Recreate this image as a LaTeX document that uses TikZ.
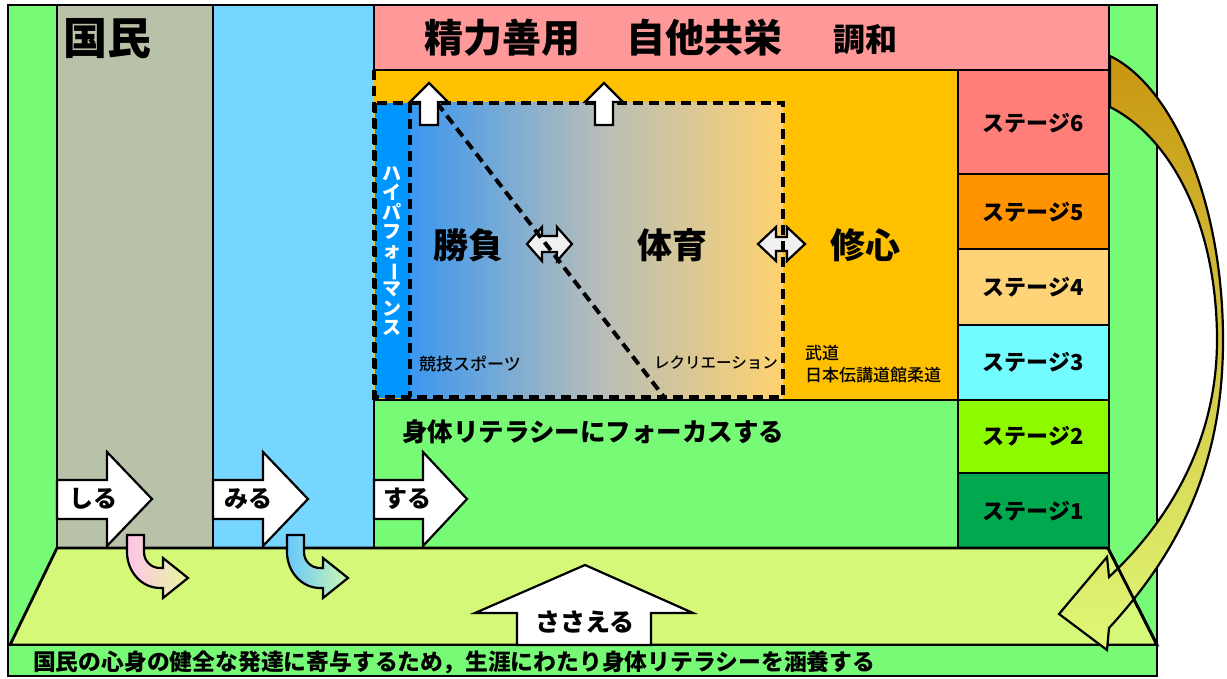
\documentclass[tikz,border=0pt]{standalone}
\usepackage{fontspec}
\usepackage{graphicx}
\setmainfont{Noto Sans CJK JP}
\IfFontExistsTF{Noto Sans CJK JP Black}{\newfontfamily\hvyfont{Noto Sans CJK JP Black}}{\newcommand\hvyfont{\bfseries}}
\IfFontExistsTF{Noto Sans CJK JP Medium}{\newfontfamily\medfont{Noto Sans CJK JP Medium}}{\newcommand\medfont{\mdseries}}
\newcommand\fsz[1]{\fontsize{#1}{#1}\selectfont}
\definecolor{cgreen}{HTML}{77FB77}
\definecolor{cgray}{HTML}{B8C2A8}
\definecolor{cblue}{HTML}{77D6FF}
\definecolor{cpink}{HTML}{FF9999}
\definecolor{corange}{HTML}{FFC000}
\definecolor{stsix}{HTML}{FF7E79}
\definecolor{stfive}{HTML}{FF9300}
\definecolor{stfour}{HTML}{FFD479}
\definecolor{stthree}{HTML}{73FCFF}
\definecolor{sttwo}{HTML}{8EFA00}
\definecolor{stone}{HTML}{00A94F}
\definecolor{ctrap}{HTML}{D5F878}
\definecolor{hpblue}{HTML}{0096FF}
\definecolor{gL}{HTML}{3B97EF}
\definecolor{gM}{HTML}{B5BDBA}
\definecolor{gR}{HTML}{FFD26F}
\definecolor{lgray}{HTML}{F0F0F0}
\definecolor{cgold}{HTML}{C8960F}
\definecolor{cyg}{HTML}{E0F878}
\definecolor{pkL}{HTML}{FFC4E8}
\definecolor{pkR}{HTML}{E6F7A0}
\definecolor{buL}{HTML}{66C8FF}
\definecolor{buR}{HTML}{D0F7B0}
\begin{document}
\begin{tikzpicture}[x=1pt,y=-1pt]
\tikzset{
  bd/.style={draw=black, line width=2.8pt},
  dsh/.style={draw=black, line width=4pt, dash pattern=on 10pt off 6pt},
  lbl/.style={inner sep=0pt},
  wa/.style={fill=white, draw=black, line width=2.2pt, line join=miter},
  da/.style={fill=lgray, draw=black, line width=2.2pt, line join=miter},
}
\useasboundingbox (0,0) rectangle (1227,679);
% outer frame
\path[fill=cgreen, bd] (8,5) rectangle (1157,676);
% columns
\path[fill=cgray, bd] (57,5) rectangle (213,548);
\fill[cblue] (213,5) rectangle (374,548);
\draw[bd] (374,5) -- (213,5) -- (213,548) -- (374,548);
% orange area
\fill[corange] (374,70) rectangle (958,400);
% top bar
\path[fill=cpink, bd] (374,5) rectangle (1109,70);
% gradient box
\fill[hpblue] (375,103) rectangle (410,398);
\shade[left color=gL, right color=gR, middle color=gM] (410,103) rectangle (783,398);
% green region
\path[fill=cgreen, bd] (374,400) rectangle (958,548);
% stages
\path[fill=stsix, bd] (958,70) rectangle (1109,174);
\path[fill=stfive, bd] (958,174) rectangle (1109,249);
\path[fill=stfour, bd] (958,249) rectangle (1109,325);
\path[fill=stthree, bd] (958,325) rectangle (1109,400);
\path[fill=sttwo, bd] (958,400) rectangle (1109,473);
\path[fill=stone, bd] (958,473) rectangle (1109,548);
% double arrows
\path[da] (527,244) -- (542,227) -- (542,236) -- (557,236) -- (557,227) -- (572,244)
  -- (557,261) -- (557,252) -- (542,252) -- (542,261) -- cycle;
\path[da] (758,244) -- (776,227) -- (776,237) -- (787,237) -- (787,227) -- (805,244)
  -- (787,261) -- (787,251) -- (776,251) -- (776,261) -- cycle;
% dashed lines
\draw[dsh] (374,70) -- (374,400);
\draw[dsh] (375,103) rectangle (783,397);
\draw[dsh] (410,103) -- (410,397);
\draw[dsh] (437,103) -- (664,397);
% up arrows
\path[wa] (420,125) -- (420,102) -- (410,102) -- (429,83) -- (448,102) -- (438,102) -- (438,125) -- cycle;
\path[wa] (595,125) -- (595,102) -- (585,102) -- (604,83) -- (623,102) -- (613,102) -- (613,125) -- cycle;
% trapezoid & bottom bar
\path[fill=ctrap, bd] (57,548) -- (1108,548) -- (1157,645) -- (10,645) -- cycle;
\path[fill=cgreen, bd] (8,645) rectangle (1157,676);
% block arrows
\path[wa] (57,480) -- (107,480) -- (107,452) -- (152,499) -- (107,546) -- (107,519) -- (57,519) -- cycle;
\path[wa] (213,480) -- (263,480) -- (263,452) -- (308,499) -- (263,546) -- (263,519) -- (213,519) -- cycle;
\path[wa] (374,480) -- (423,480) -- (423,452) -- (467,499) -- (423,546) -- (423,519) -- (374,519) -- cycle;
% small curved arrows
\path[left color=pkL, right color=pkR, draw=black, line width=2.2pt]
  (127,535) -- (144,535) -- (144,552) .. controls (144,561) and (151,568) .. (160,568)
  -- (163,568) -- (163,558) -- (188,578) -- (163,598) -- (163,588) -- (160,588)
  .. controls (142,588) and (127,572) .. (127,552) -- cycle;
\path[left color=buL, right color=buR, draw=black, line width=2.2pt]
  (287,535) -- (304,535) -- (304,552) .. controls (304,561) and (311,568) .. (320,568)
  -- (323,568) -- (323,558) -- (348,578) -- (323,598) -- (323,588) -- (320,588)
  .. controls (302,588) and (287,572) .. (287,552) -- cycle;
% support arrow
\path[wa] (517,645) -- (517,613) -- (475,613) -- (585,565) -- (693,613) -- (651,613) -- (651,645) -- cycle;
% big curved arrow
\path[top color=cgold, bottom color=cyg, draw=black, line width=2.2pt, line join=miter]
  (1110,56) .. controls (1172,86) and (1223,200) .. (1223,340)
  .. controls (1223,450) and (1190,540) .. (1109,628)
  -- (1107,650) -- (1059,614) -- (1107,557) -- (1109,577)
  .. controls (1170,520) and (1217,440) .. (1217,340)
  .. controls (1217,230) and (1175,140) .. (1110,107) -- cycle;
\draw[black, line width=2.8pt] (1108,548) -- (1157,645);
% texts
\node[lbl, anchor=west, font=\hvyfont\fsz{44}] (kokumin) at (63,39) {国民};
\node[lbl, anchor=west, font=\hvyfont\fsz{39}] (seiryoku) at (424,38) {精力善用};
\node[lbl, anchor=west, font=\hvyfont\fsz{39}] (jita) at (626,38) {自他共栄};
\node[lbl, anchor=west, font=\hvyfont\fsz{32}] (chowa) at (833,40) {調和};
\node[lbl, font=\hvyfont\fsz{35}] (shobu) at (468,245) {勝負};
\node[lbl, font=\hvyfont\fsz{35}] (taiiku) at (672,245) {体育};
\node[lbl, font=\hvyfont\fsz{35}] (shushin) at (865,245) {修心};
\node[lbl, anchor=west, font=\medfont\fsz{17}] (kyogi) at (419,364) {競技スポーツ};
\node[lbl, anchor=west, font=\medfont\fsz{15.5}] (recre) at (654,363) {レクリエーション};
\node[lbl, anchor=west, font=\medfont\fsz{17}] (budo) at (805,353) {武道};
\node[lbl, anchor=west, font=\medfont\fsz{17}] (judo) at (805,375) {日本伝講道館柔道};
\node[lbl, text=white, align=center, font=\hvyfont\fontsize{19}{19.2}\selectfont] (hp) at (392,251)
  {ハ\\イ\\パ\\フ\\ォ\\\rotatebox[origin=c]{-90}{ー}\\マ\\ン\\ス};
\node[lbl, anchor=west, font=\hvyfont\fsz{25.5}] (focus) at (402,432) {身体リテラシーにフォーカスする};
\node[lbl, anchor=west, font=\hvyfont\fsz{24}] (shiru) at (69,499) {しる};
\node[lbl, anchor=west, font=\hvyfont\fsz{24}] (miru) at (224,499) {みる};
\node[lbl, anchor=west, font=\hvyfont\fsz{24}] (suru) at (383,499) {する};
\node[lbl, font=\hvyfont\fsz{22}] (s6) at (1033,123) {ステージ6};
\node[lbl, font=\hvyfont\fsz{22}] (s5) at (1033,212) {ステージ5};
\node[lbl, font=\hvyfont\fsz{22}] (s4) at (1033,287) {ステージ4};
\node[lbl, font=\hvyfont\fsz{22}] (s3) at (1033,362) {ステージ3};
\node[lbl, font=\hvyfont\fsz{22}] (s2) at (1033,436) {ステージ2};
\node[lbl, font=\hvyfont\fsz{22}] (s1) at (1033,511) {ステージ1};
\node[lbl, font=\hvyfont\fsz{25}] (sasaeru) at (585,622) {ささえる};
\node[lbl, anchor=west, font=\hvyfont\fsz{22.8}] (goal) at (33,662) {国民の心身の健全な発達に寄与するため，生涯にわたり身体リテラシーを涵養する};
\end{tikzpicture}
\end{document}
